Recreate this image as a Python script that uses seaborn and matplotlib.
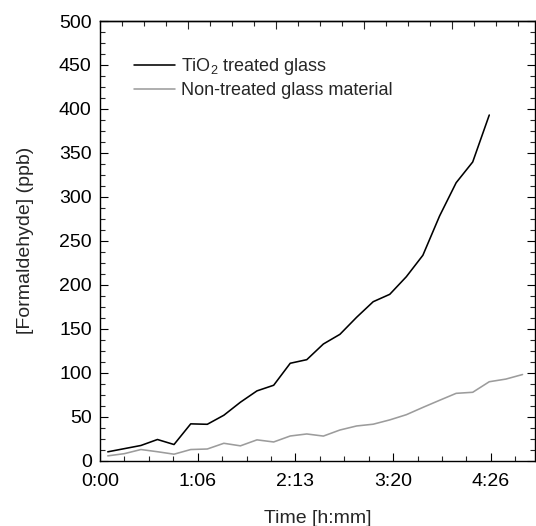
import matplotlib
matplotlib.use("Agg")
import matplotlib.pyplot as plt
import seaborn as sns
import pandas as pd
from matplotlib.ticker import FixedLocator, MultipleLocator

# ---- data (time in minutes, concentration in ppb) ----
time_min = [5.3, 16.6, 27.9, 39.2, 50.5, 61.9, 73.2, 84.5, 95.8, 107.1,
            118.5, 129.8, 141.1, 152.4, 163.7, 175.1, 186.4, 197.7, 209.0, 220.3,
            231.7, 243.0, 254.3, 265.6, 276.9, 288.3]
tio2_treated = [10.1, 13.7, 17.3, 24.1, 18.4, 41.9, 41.4, 51.7, 66.5, 79.4,
                85.8, 110.8, 114.9, 132.7, 143.7, 163.1, 180.8, 189.2, 209.2, 233.6,
                278.3, 316.1, 339.7, 393.1]
non_treated = [5.5, 8.0, 12.7, 10.2, 7.4, 12.7, 13.3, 19.8, 16.9, 23.7,
               21.3, 28.1, 30.4, 28.0, 34.9, 39.5, 41.5, 46.4, 52.3, 60.6,
               68.7, 76.6, 77.8, 89.8, 92.8, 98.0]
series_labels = ["TiO$_2$ treated glass", "Non-treated glass material"]
xtick_vals = [0, 66.667, 133.333, 200, 266.667]
xtick_labels = ["0:00", "1:06", "2:13", "3:20", "4:26"]
ytick_vals = [0, 50, 100, 150, 200, 250, 300, 350, 400, 450, 500]

df = pd.concat([
    pd.DataFrame({"t": time_min[:len(tio2_treated)], "c": tio2_treated, "s": series_labels[0]}),
    pd.DataFrame({"t": time_min, "c": non_treated, "s": series_labels[1]}),
], ignore_index=True)

sns.set_style("ticks")
plt.rcParams["font.family"] = ["Liberation Sans", "DejaVu Sans"]
plt.rcParams["mathtext.default"] = "regular"

fig = plt.figure(figsize=(5.36, 5.26), dpi=100)
ax = fig.add_axes([100 / 536, 1 - 460.7 / 526, 435 / 536, 439.7 / 526])

sns.lineplot(data=df, x="t", y="c", hue="s", hue_order=series_labels,
             palette=["#000000", "#9c9c9c"], linewidth=1.15, ax=ax, legend=False,
             sort=False, estimator=None)

ax.set_xlim(0, 296.8)
ax.set_ylim(0, 500)
ax.set_xticks(xtick_vals)
ax.set_xticklabels(xtick_labels)
ax.xaxis.set_minor_locator(MultipleLocator(66.667 / 4))
ax.set_yticks(ytick_vals)
ax.yaxis.set_minor_locator(MultipleLocator(12.5))

for sp in ax.spines.values():
    sp.set_visible(True)
    sp.set_linewidth(1.0)
    sp.set_color("black")

ax.tick_params(axis="both", which="major", direction="in", length=6, width=0.8,
               labelsize=14, colors="black")
ax.tick_params(axis="both", which="minor", direction="in", length=3.5, width=0.8)
ax.tick_params(axis="y", which="both", right=True)
ax.tick_params(axis="x", which="major", pad=8.5)
ax.tick_params(axis="y", which="major", pad=6)

sec = ax.secondary_xaxis("top")
sec.set_xticks([0, 60, 120, 180, 240])
sec.xaxis.set_minor_locator(FixedLocator([15 * i for i in range(20)]))
sec.tick_params(which="major", direction="in", length=6, width=0.8, labeltop=False)
sec.tick_params(which="minor", direction="in", length=3.5, width=0.8)
sec.spines["top"].set_linewidth(1.0)

ax.set_xlabel("Time [h:mm]", fontsize=14, labelpad=15)
ax.set_ylabel("[Formaldehyde] (ppb)", fontsize=14, labelpad=18)

handles = ax.lines[:2]
leg = ax.legend(handles, series_labels, loc="upper left",
                bbox_to_anchor=((134 - 100) / 435, 1 - (56 - 21) / 439.7),
                frameon=False, fontsize=13, handlelength=2.25, handletextpad=0.35,
                labelspacing=0.3, borderpad=0, borderaxespad=0)

fig.savefig("out.png", dpi=100)
